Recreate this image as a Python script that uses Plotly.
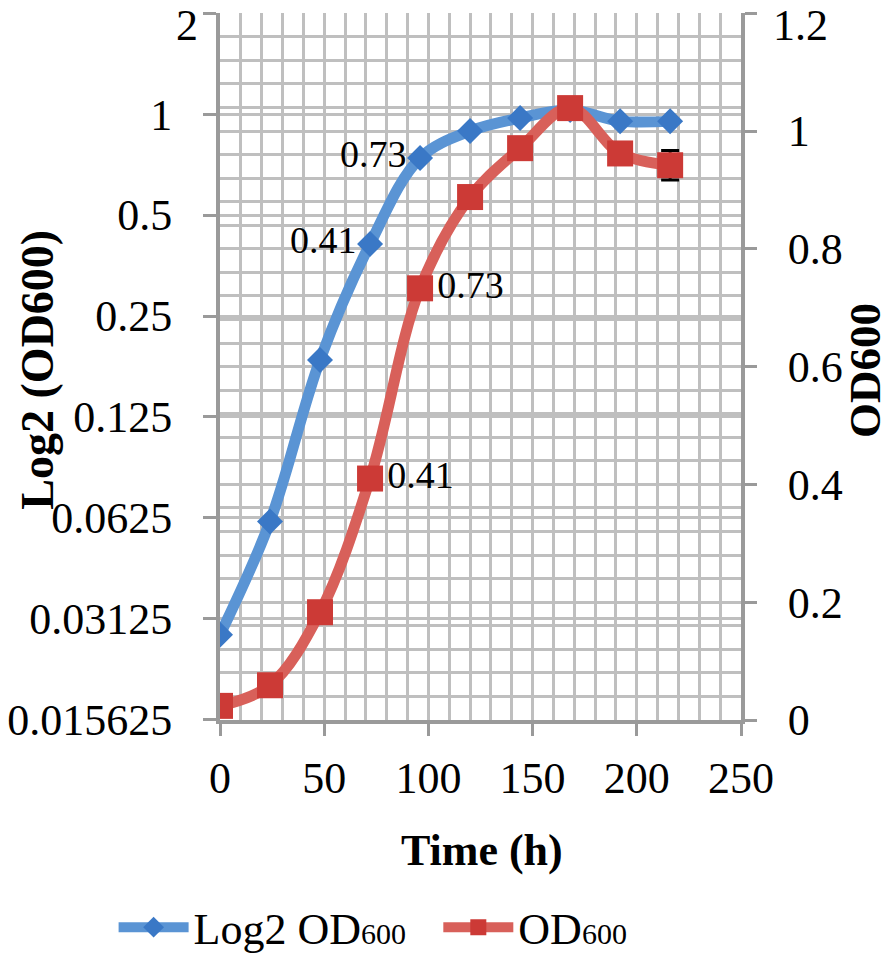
import numpy as np
import plotly.graph_objects as go

# sampling times (h)
hours = [0, 24, 48, 72, 96, 120, 144, 168, 192, 216]

# OD600 plotted on the log2 (left) axis
log2_od = [0.028, 0.061, 0.185, 0.41, 0.74, 0.89, 0.973, 1.028, 0.953, 0.953]
log2_labels = ["", "", "", "0.41", "0.73", "", "", "", "", ""]

# OD600 plotted on the linear (right) axis
od600 = [0.024, 0.059, 0.183, 0.41, 0.733, 0.888, 0.971, 1.039, 0.962, 0.942]
od600_err = [0, 0, 0, 0, 0, 0, 0, 0, 0, 0.025]
od600_labels = ["", "", "", "0.41", "0.73", "", "", "", "", ""]

left_ticks = [2, 1, 0.5, 0.25, 0.125, 0.0625, 0.03125, 0.015625]
left_ticktext = ["", "1", "0.5", "0.25", "0.125", "0.0625", "0.03125", "0.015625"]
right_ticks = [0, 0.2, 0.4, 0.6, 0.8, 1.0, 1.2]
right_ticktext = ["0", "0.2", "0.4", "0.6", "0.8", "1", ""]

FONT = "Liberation Serif"
GRID = "#bfbfbf"
AXIS = "#9a9a9a"

# the page body adds an 8px margin, so the figure is 16px smaller
W, H = 880, 948

fig = go.Figure()

fig.add_trace(go.Scatter(
    x=hours, y=log2_od, name="Log2 OD<span style='font-size:30px'>600</span>",
    mode="lines+markers+text", text=log2_labels, textposition="middle left",
    textfont=dict(family=FONT, size=38, color="black"),
    line=dict(color="#5a94d4", width=11, shape="spline", smoothing=1),
    marker=dict(symbol="diamond", size=20, color="#3a78c6"),
    yaxis="y", legend="legend"))

fig.add_trace(go.Scatter(
    x=hours, y=od600, name="OD<span style='font-size:30px'>600</span>",
    mode="lines+markers+text", text=od600_labels, textposition="middle right",
    textfont=dict(family=FONT, size=38, color="black"),
    line=dict(color="#d8605a", width=11, shape="spline", smoothing=1),
    marker=dict(symbol="square", size=26, color="#cc3a36"),
    error_y=dict(type="data", array=od600_err, color="black", thickness=3, width=9),
    yaxis="y2", legend="legend2"))

leg = dict(orientation="h", xref="container", yref="container",
           xanchor="left", yanchor="middle", y=0.03, bgcolor="rgba(0,0,0,0)",
           itemwidth=70, font=dict(family=FONT, size=44, color="black"))

fig.update_layout(
    width=W, height=H,
    margin=dict(l=212, r=147, t=5, b=236, autoexpand=False),
    paper_bgcolor="white", plot_bgcolor="white",
    font=dict(family=FONT, size=44, color="black"),
    showlegend=True,
    legend=dict(leg, x=0.12),
    legend2=dict(leg, x=0.489),
    xaxis=dict(range=[0, 250], dtick=50, tick0=0, showgrid=True, gridcolor=GRID, gridwidth=3,
               minor=dict(dtick=10, showgrid=True, gridcolor=GRID, gridwidth=3),
               showline=True, linecolor=AXIS, linewidth=4,
               ticks="outside", ticklen=12, tickwidth=3, tickcolor=AXIS,
               ticklabelstandoff=4, zeroline=False, automargin=False),
    yaxis=dict(type="log", range=[np.log10(0.015625) - 0.0005, np.log10(2) + 0.0005],
               tickvals=left_ticks, ticktext=left_ticktext,
               showgrid=True, gridcolor=GRID, gridwidth=3,
               showline=True, linecolor=AXIS, linewidth=4,
               ticks="outside", ticklen=13, tickwidth=3, tickcolor=AXIS,
               ticklabelstandoff=22, zeroline=False, automargin=False),
    yaxis2=dict(overlaying="y", side="right", range=[0, 1.2005],
                tickvals=right_ticks, ticktext=right_ticktext,
                showgrid=True, gridcolor=GRID, gridwidth=3,
                minor=dict(dtick=0.04, tick0=0, showgrid=True, gridcolor=GRID, gridwidth=3),
                showline=True, linecolor=AXIS, linewidth=4,
                ticks="outside", ticklen=12, tickwidth=3, tickcolor=AXIS,
                ticklabelstandoff=22, zeroline=False, automargin=False),
    annotations=[
        # top tick labels, nudged down so they stay inside the page
        dict(text="2", x=0, y=1, xref="paper", yref="paper", xanchor="right", yanchor="middle",
             xshift=-20, yshift=-12, showarrow=False, font=dict(family=FONT, size=44)),
        dict(text="1.2", x=1, y=1, xref="paper", yref="paper", xanchor="left", yanchor="middle",
             xshift=30, yshift=-12, showarrow=False, font=dict(family=FONT, size=44)),
        dict(text="<b>Log2 (OD600)</b>", textangle=-90, x=-0.352, y=0.495,
             xref="paper", yref="paper", xanchor="center", yanchor="middle", showarrow=False,
             font=dict(family=FONT, size=46)),
        dict(text="<b>OD600</b>", textangle=-90, x=1.238, y=0.495,
             xref="paper", yref="paper", xanchor="center", yanchor="middle", showarrow=False,
             font=dict(family=FONT, size=45)),
        dict(text="<b>Time (h)</b>", x=0.503, y=-0.184,
             xref="paper", yref="paper", xanchor="center", yanchor="middle", showarrow=False,
             font=dict(family=FONT, size=44)),
    ],
)

fig.write_html("out.html")
